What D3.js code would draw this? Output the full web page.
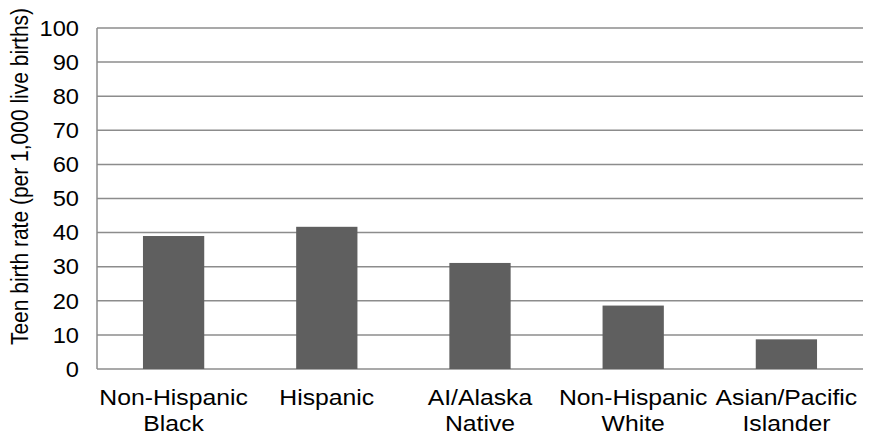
<!DOCTYPE html>
<html><head><meta charset="utf-8">
<script src="https://cdn.jsdelivr.net/npm/d3@7"></script>
<style>body{margin:0;background:#fff}svg{display:block}text{font-family:"Liberation Sans",Arial,sans-serif;fill:#000}</style>
</head><body><svg id="c" width="869" height="437"></svg>
<script>
const categories = [["Non-Hispanic","Black"],["Hispanic"],["AI/Alaska","Native"],["Non-Hispanic","White"],["Asian/Pacific","Islander"]];
const values = [39.0, 41.7, 31.1, 18.6, 8.7];
const yTicks = [0,10,20,30,40,50,60,70,80,90,100];
const yTitle = "Teen birth rate (per 1,000 live births)";

const svg = d3.select("#c");
const L = 97, R = 863, T = 28, B = 369;
const SX = 1.1;
const x = d3.scaleBand().domain(d3.range(categories.length)).range([L, R]).padding(0);
const y = d3.scaleLinear().domain([0, 100]).range([B, T]);

// gridlines
svg.append("g").selectAll("line").data(yTicks).join("line")
  .attr("x1", L).attr("x2", R).attr("y1", d => y(d)).attr("y2", d => y(d))
  .attr("stroke", "#8c8c8c").attr("stroke-width", 1.5);
svg.append("line").attr("x1", L).attr("x2", L).attr("y1", T).attr("y2", B)
  .attr("stroke", "#8c8c8c").attr("stroke-width", 1.5);

// bars
const bw = x.bandwidth() * 0.4;
svg.append("g").selectAll("rect").data(values).join("rect")
  .attr("x", (d, i) => x(i) + x.bandwidth() / 2 - bw / 2)
  .attr("width", bw)
  .attr("y", d => y(d))
  .attr("height", d => y(0) - y(d))
  .attr("fill", "#5f5f5f");

// y tick labels
svg.append("g").selectAll("text").data(yTicks).join("text")
  .attr("transform", d => `translate(79,${y(d)}) scale(${SX},1)`)
  .attr("dy", "0.36em")
  .attr("text-anchor", "end").attr("font-size", 21.5).text(d => d);

// category labels
const cl = svg.append("g").selectAll("text").data(categories).join("text")
  .attr("transform", (d, i) => `translate(${x(i) + x.bandwidth() / 2},405) scale(${SX},1)`)
  .attr("text-anchor", "middle").attr("font-size", 22.5);
cl.selectAll("tspan").data(d => d).join("tspan")
  .attr("x", 0)
  .attr("dy", (d, i) => i === 0 ? 0 : 26.5).text(d => d);

// y title
svg.append("text").attr("transform", `translate(28,176.5) scale(${SX},1) rotate(-90)`)
  .attr("text-anchor", "middle").attr("font-size", 21).text(yTitle);
</script></body></html>
